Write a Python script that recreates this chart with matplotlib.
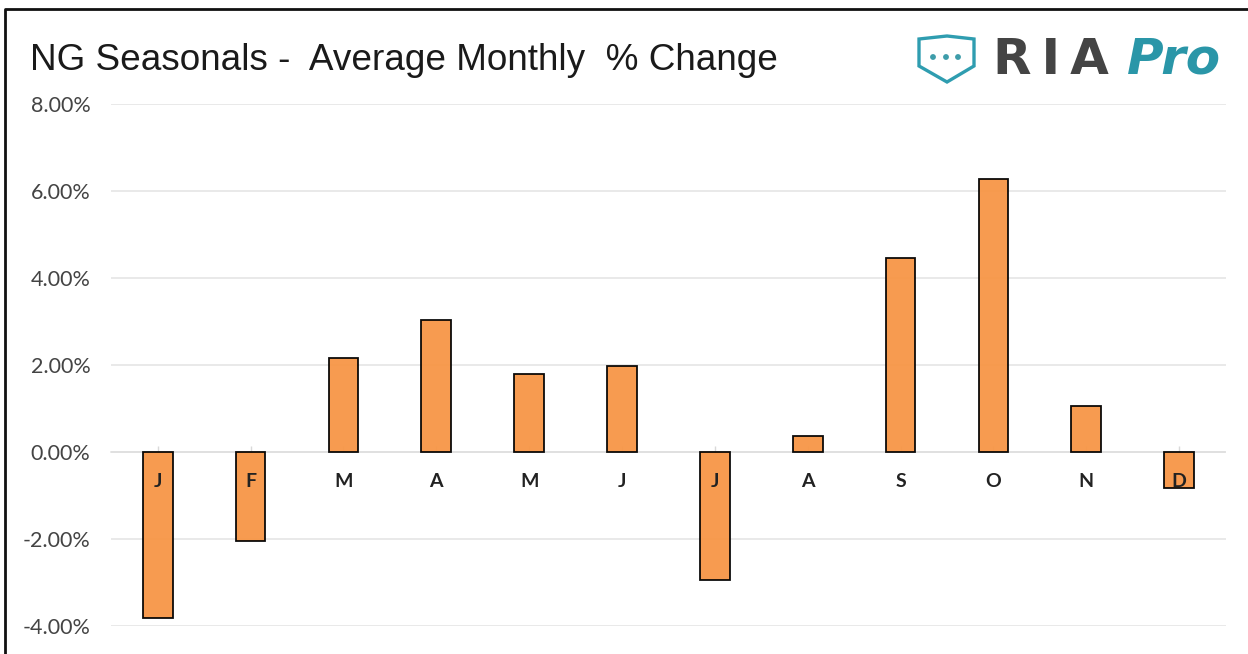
import matplotlib
matplotlib.use('Agg')
import matplotlib.pyplot as plt
from matplotlib.patches import Polygon, Circle

months = ['J', 'F', 'M', 'A', 'M', 'J', 'J', 'A', 'S', 'O', 'N', 'D']
changes = [-3.82, -2.04, 2.16, 3.04, 1.80, 1.98, -2.95, 0.36, 4.47, 6.28, 1.05, -0.83]
y_ticks = [-4, -2, 0, 2, 4, 6, 8]

W, H = 1248, 654
plt.rcParams['font.family'] = ['Lato', 'DejaVu Sans']
fig = plt.figure(figsize=(W / 100, H / 100), dpi=100, facecolor='white')

# full figure layer for the frame and logo, in pixels
bg = fig.add_axes([0, 0, 1, 1])
bg.set_xlim(0, W)
bg.set_ylim(H, 0)
bg.axis('off')
bg.plot([5, 5, W], [H, 9, 9], color='#111111', lw=2)

ax = fig.add_axes([111.3 / W, 1 - 626 / H, (1225.5 - 111.3) / W, (626 - 104) / H])
ax.patch.set_alpha(0)
ax.set_xlim(-0.5, 11.5)
ax.set_ylim(-4, 8)
ax.bar(range(12), changes, width=0.32, color='#F79646', alpha=0.95, edgecolor='black', lw=1.3, zorder=3)
ax.set_yticks(y_ticks)
ax.set_yticklabels([f'{v:.2f}%' for v in y_ticks], fontsize=15.5, color='#444444')
ax.tick_params(axis='y', length=0, pad=15)
ax.grid(axis='y', color='#E3E3E3', lw=1.1, zorder=0)
for s in ['top', 'right', 'left']:
    ax.spines[s].set_visible(False)

# small ticks on the zero line
ax.spines['bottom'].set_position(('data', 0))
ax.spines['bottom'].set_color('#DEDEDE')
ax.spines['bottom'].set_linewidth(1.1)
ax.set_xticks(range(12))
ax.set_xticklabels([])
ax.tick_params(axis='x', which='major', direction='in', length=4, color='#D9D9D9', width=1)

for i, m in enumerate(months):
    ax.text(i, -0.67, m, ha='center', va='center', fontsize=14, fontweight='bold', color='#222222', zorder=4)

bg.text(30, 60, 'NG Seasonals -  Average Monthly  % Change', fontsize=26.6, va='center', ha='left',
        family=['Liberation Sans'], color='#1A1A1A')

# logo
shield = [(919, 39), (947, 36), (974, 39), (974, 66), (947, 82), (919, 66)]
bg.add_patch(Polygon(shield, closed=True, fc='white', ec='#2F9DB0', lw=2.4))
for x in [933, 946, 958]:
    bg.add_patch(Circle((x, 57), 2.2, color='#3E9DAA'))
bg.text(993, 60, 'R\u2009I\u2009A', fontsize=36, fontweight='bold', color='#444444', va='center', ha='left',
        family=['DejaVu Sans'])
bg.text(1127, 60, 'Pro', fontsize=36, fontweight='bold', style='italic', color='#2A96A8', va='center', ha='left',
        family=['DejaVu Sans'])

fig.savefig('out.png', dpi=100)
